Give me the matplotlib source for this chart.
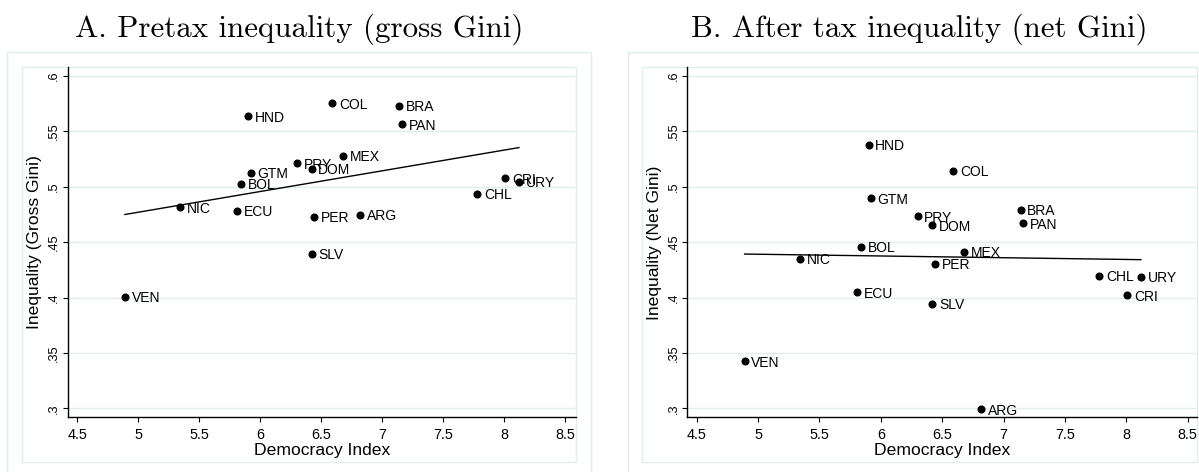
import matplotlib
matplotlib.use("Agg")
import matplotlib.pyplot as plt
from matplotlib.patches import Rectangle
import numpy as np

countries = ["VEN", "NIC", "ECU", "BOL", "GTM", "HND", "PRY", "DOM", "SLV",
             "PER", "COL", "MEX", "ARG", "BRA", "PAN", "CHL", "CRI", "URY"]
democracy = [4.89, 5.34, 5.81, 5.84, 5.92, 5.90, 6.30, 6.42, 6.42,
             6.44, 6.59, 6.68, 6.82, 7.14, 7.16, 7.78, 8.01, 8.12]
gross_gini = [0.4007, 0.4815, 0.4782, 0.5026, 0.5126, 0.5638, 0.5213, 0.5162, 0.4396,
              0.4731, 0.5753, 0.5279, 0.4749, 0.5729, 0.5563, 0.4936, 0.5077, 0.5047]
net_gini = [0.3426, 0.4349, 0.4049, 0.4461, 0.4896, 0.5380, 0.4733, 0.4651, 0.3941,
            0.4306, 0.5147, 0.4415, 0.2991, 0.4793, 0.4669, 0.4198, 0.4019, 0.4185]

xticks = [4.5, 5, 5.5, 6, 6.5, 7, 7.5, 8, 8.5]
xticklabels = ["4.5", "5", "5.5", "6", "6.5", "7", "7.5", "8", "8.5"]
yticks = [0.3, 0.35, 0.4, 0.45, 0.5, 0.55, 0.6]
yticklabels = [".3", ".35", ".4", ".45", ".5", ".55", ".6"]

titles = ["A. Pretax inequality (gross Gini)", "B. After tax inequality (net Gini)"]
ylabels = ["Inequality (Gross Gini)", "Inequality (Net Gini)"]
xlabel = "Democracy Index"

W, H = 1199, 472
fig = plt.figure(figsize=(W / 100, H / 100), dpi=100)
fig.patch.set_facecolor("white")

plt.rcParams["font.family"] = ["Liberation Sans", "DejaVu Sans"]

FRAME = "#e3ecee"
GRID = "#e3ecee"


def px_rect(x0, y0, x1, y1):
    return [x0 / W, 1 - y1 / H, (x1 - x0) / W, (y1 - y0) / H]


# panel layouts in pixel coordinates
panels = [
    dict(outer=(7.3, 52.5, 590.7, 490), inner=(22.3, 67.3, 576, 461.7),
         axes=(67.7, 67.3, 576, 417.3), xlim=(4.421, 8.588), title_x=299),
    dict(outer=(627.7, 52.5, 1211, 490), inner=(642.3, 67.3, 1197, 461.7),
         axes=(687.3, 67.3, 1197, 417.3), xlim=(4.423, 8.577), title_x=919),
]
ydata = [gross_gini, net_gini]

for i, p in enumerate(panels):
    for key in ("outer", "inner"):
        x0, y0, x1, y1 = p[key]
        r = Rectangle((x0 / W, 1 - y1 / H), (x1 - x0) / W, (y1 - y0) / H,
                      transform=fig.transFigure, facecolor="none",
                      edgecolor=FRAME, linewidth=1.0, zorder=0)
        fig.add_artist(r)

    ax = fig.add_axes(px_rect(*p["axes"]))
    ax.set_facecolor("none")
    ax.set_xlim(*p["xlim"])
    ax.set_ylim(0.2919, 0.6079)

    for yt in yticks:
        ax.axhline(yt, color=GRID, linewidth=1.0, zorder=0)

    x = np.array(democracy)
    y = np.array(ydata[i])
    ax.plot(x, y, "o", color="black", markersize=4.8, zorder=3)
    b, a = np.polyfit(x, y, 1)
    xs = np.array([x.min(), x.max()])
    ax.plot(xs, a + b * xs, color="black", linewidth=1.0, zorder=2)

    for c, xv, yv in zip(countries, x, y):
        ax.annotate(c, (xv, yv), xytext=(4.8, -1.0), textcoords="offset points",
                    ha="left", va="center", fontsize=10, color="black", zorder=4)

    ax.spines["top"].set_visible(False)
    ax.spines["right"].set_visible(False)
    for s in ("left", "bottom"):
        ax.spines[s].set_linewidth(1.0)
        ax.spines[s].set_color("black")

    ax.set_xticks(xticks)
    ax.set_xticklabels(xticklabels)
    ax.set_yticks(yticks)
    ax.set_yticklabels(yticklabels)
    ax.tick_params(axis="both", direction="out", length=3.8, width=0.8,
                   color="black")
    ax.tick_params(axis="x", pad=4, labelsize=10.4)
    ax.tick_params(axis="y", pad=1.5, labelrotation=90, labelsize=9.2)
    for lbl in ax.get_yticklabels():
        lbl.set_va("center")
        lbl.set_ha("right")

    axw = p["axes"][2] - p["axes"][0]
    axh = p["axes"][3] - p["axes"][1]
    ax.set_xlabel(xlabel, fontsize=12.6)
    ax.xaxis.set_label_coords(0.5, -(450 - p["axes"][3]) / axh)
    ax.xaxis.label.set_va("center")
    ax.set_ylabel(ylabels[i], fontsize=12.6)
    ax.yaxis.set_label_coords(-33 / axw, 0.5)
    ax.yaxis.label.set_va("center")

    fig.text(p["title_x"] / W, 1 - 29 / H, titles[i], family="cmr10",
             fontsize=22.3, ha="center", va="center", color="black")

fig.savefig("out.png", dpi=100, facecolor="white")
